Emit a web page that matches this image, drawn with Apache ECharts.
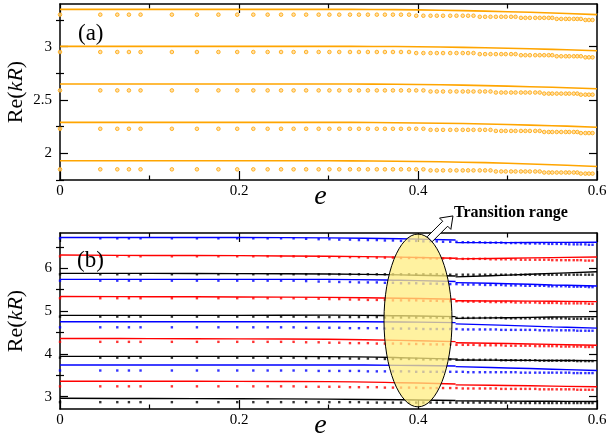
<!DOCTYPE html>
<html>
<head>
<meta charset="utf-8">
<script src="https://cdn.jsdelivr.net/npm/echarts@6/dist/echarts.min.js"></script>
<style>
  html, body { margin: 0; padding: 0; background: #fff; }
  #chart { width: 606px; height: 436px; }
</style>
</head>
<body>
<div id="chart"></div>
<script>
// Eccentricity values at which the resonances were computed (shared by both panels)
const eGrid = [0, 0.045, 0.064, 0.077, 0.090, 0.125, 0.153, 0.177, 0.198, 0.216,
  0.232, 0.247, 0.261, 0.275, 0.289, 0.301, 0.312, 0.324, 0.334, 0.344,
  0.354, 0.363, 0.372, 0.381, 0.390, 0.398, 0.406, 0.414, 0.421, 0.428,
  0.436, 0.443, 0.450, 0.456, 0.462, 0.469, 0.475, 0.481, 0.487, 0.493,
  0.498, 0.504, 0.509, 0.515, 0.520, 0.525, 0.531, 0.536, 0.541, 0.546,
  0.550, 0.555, 0.560, 0.565, 0.569, 0.574, 0.578, 0.582, 0.587, 0.591, 0.595];

// Panel (a): computed Re(kR), one array per branch
const aDots1 = [3.30,3.30,3.30,3.30,3.30,3.30,3.30,3.30,3.30,3.30,
  3.30,3.30,3.30,3.30,3.30,3.30,3.30,3.30,3.30,3.30,
  3.30,3.30,3.30,3.30,3.30,3.29,3.29,3.29,3.29,3.29,
  3.29,3.29,3.29,3.29,3.29,3.28,3.28,3.28,3.28,3.28,
  3.28,3.28,3.28,3.27,3.27,3.27,3.27,3.27,3.27,3.27,
  3.27,3.26,3.26,3.26,3.26,3.26,3.26,3.26,3.25,3.25,3.25];
const aDots2 = [2.95,2.95,2.95,2.95,2.95,2.95,2.95,2.95,2.95,2.95,
  2.95,2.95,2.95,2.95,2.95,2.95,2.95,2.95,2.95,2.95,
  2.95,2.95,2.95,2.95,2.95,2.94,2.94,2.94,2.94,2.94,
  2.94,2.94,2.94,2.94,2.94,2.93,2.93,2.93,2.93,2.93,
  2.93,2.93,2.93,2.92,2.92,2.92,2.92,2.92,2.92,2.92,
  2.92,2.91,2.91,2.91,2.91,2.91,2.91,2.91,2.90,2.90,2.90];
const aDots3 = [2.59,2.59,2.59,2.59,2.59,2.59,2.59,2.59,2.59,2.59,
  2.59,2.59,2.59,2.59,2.59,2.59,2.59,2.59,2.59,2.59,
  2.59,2.59,2.59,2.59,2.59,2.59,2.59,2.58,2.58,2.58,
  2.58,2.58,2.58,2.58,2.58,2.58,2.58,2.58,2.57,2.57,
  2.57,2.57,2.57,2.57,2.57,2.57,2.57,2.57,2.56,2.56,
  2.56,2.56,2.56,2.56,2.56,2.56,2.56,2.55,2.55,2.55,2.55];
const aDots4 = [2.23,2.23,2.23,2.23,2.23,2.23,2.23,2.23,2.23,2.23,
  2.23,2.23,2.23,2.23,2.23,2.23,2.23,2.23,2.23,2.23,
  2.23,2.23,2.23,2.23,2.23,2.23,2.23,2.22,2.22,2.22,
  2.22,2.22,2.22,2.22,2.22,2.22,2.22,2.22,2.21,2.21,
  2.21,2.21,2.21,2.21,2.21,2.21,2.21,2.21,2.20,2.20,
  2.20,2.20,2.20,2.20,2.20,2.20,2.20,2.19,2.19,2.19,2.19];
const aDots5 = [1.85,1.85,1.85,1.85,1.85,1.85,1.85,1.85,1.85,1.85,
  1.85,1.85,1.85,1.85,1.85,1.85,1.85,1.85,1.85,1.85,
  1.85,1.85,1.85,1.85,1.85,1.85,1.85,1.84,1.84,1.84,
  1.84,1.84,1.84,1.84,1.84,1.84,1.84,1.84,1.83,1.83,
  1.83,1.83,1.83,1.83,1.83,1.83,1.83,1.83,1.82,1.82,
  1.82,1.82,1.82,1.82,1.82,1.82,1.82,1.81,1.81,1.81,1.81];

// Panel (a): approximate curves
const aLineE = [0, 0.1, 0.2, 0.3, 0.35, 0.4, 0.45, 0.5, 0.55, 0.6];
const aLine1 = [3.35, 3.35, 3.35, 3.35, 3.349, 3.345, 3.338, 3.328, 3.316, 3.30];
const aLine2 = [3.003, 3.003, 3.003, 3.003, 3.002, 2.999, 2.993, 2.985, 2.975, 2.962];
const aLine3 = [2.65, 2.65, 2.65, 2.65, 2.649, 2.645, 2.639, 2.630, 2.619, 2.605];
const aLine4 = [2.29, 2.29, 2.29, 2.29, 2.289, 2.285, 2.279, 2.270, 2.259, 2.245];
const aLine5 = [1.93, 1.93, 1.93, 1.93, 1.928, 1.924, 1.917, 1.907, 1.893, 1.877];

// Panel (b): computed Re(kR), top to bottom (blue, red, black repeating)
const bDots1 = [6.70,6.70,6.70,6.70,6.70,6.70,6.70,6.70,6.70,6.70,
  6.70,6.70,6.70,6.69,6.68,6.68,6.67,6.67,6.66,6.66,
  6.66,6.65,6.65,6.64,6.64,6.64,6.63,6.63,6.63,6.62,
  6.62,6.62,6.61,6.61,6.61,6.61,6.60,6.60,6.60,6.60,
  6.59,6.59,6.59,6.59,6.58,6.58,6.58,6.58,6.58,6.57,
  6.57,6.57,6.57,6.57,6.56,6.56,6.56,6.56,6.56,6.55,6.55];
const bDots2 = [6.28,6.28,6.28,6.28,6.28,6.28,6.28,6.28,6.28,6.28,
  6.28,6.28,6.28,6.27,6.27,6.26,6.26,6.26,6.26,6.25,
  6.25,6.25,6.25,6.24,6.24,6.24,6.24,6.23,6.23,6.23,
  6.23,6.23,6.22,6.22,6.22,6.22,6.22,6.21,6.21,6.21,
  6.21,6.21,6.21,6.20,6.20,6.20,6.20,6.20,6.20,6.20,
  6.19,6.19,6.19,6.19,6.19,6.19,6.19,6.19,6.18,6.18,6.18];
const bDots3 = [5.86,5.86,5.86,5.86,5.86,5.86,5.86,5.86,5.86,5.86,
  5.86,5.86,5.86,5.86,5.86,5.86,5.86,5.86,5.86,5.86,
  5.86,5.86,5.86,5.86,5.86,5.86,5.86,5.86,5.86,5.85,
  5.85,5.85,5.85,5.85,5.85,5.85,5.85,5.85,5.85,5.85,
  5.85,5.85,5.85,5.85,5.85,5.85,5.85,5.85,5.85,5.85,
  5.85,5.85,5.85,5.85,5.85,5.85,5.85,5.85,5.85,5.85,5.85];
const bDots4 = [5.71,5.71,5.71,5.71,5.71,5.71,5.71,5.71,5.71,5.71,
  5.71,5.71,5.71,5.70,5.69,5.69,5.68,5.68,5.67,5.67,
  5.67,5.66,5.66,5.65,5.65,5.65,5.64,5.64,5.64,5.63,
  5.63,5.63,5.62,5.62,5.62,5.62,5.61,5.61,5.61,5.61,
  5.60,5.60,5.60,5.60,5.59,5.59,5.59,5.59,5.59,5.58,
  5.58,5.58,5.58,5.58,5.57,5.57,5.57,5.57,5.57,5.56,5.56];
const bDots5 = [5.30,5.30,5.30,5.30,5.30,5.30,5.30,5.30,5.30,5.30,
  5.30,5.30,5.30,5.29,5.29,5.28,5.28,5.27,5.27,5.26,
  5.26,5.26,5.25,5.25,5.25,5.25,5.24,5.24,5.24,5.23,
  5.23,5.23,5.23,5.22,5.22,5.22,5.22,5.21,5.21,5.21,
  5.21,5.21,5.20,5.20,5.20,5.20,5.20,5.19,5.19,5.19,
  5.19,5.19,5.18,5.18,5.18,5.18,5.18,5.18,5.18,5.17,5.17];
const bDots6 = [4.87,4.87,4.87,4.87,4.87,4.87,4.87,4.87,4.87,4.87,
  4.87,4.87,4.87,4.87,4.86,4.86,4.86,4.86,4.86,4.86,
  4.86,4.85,4.85,4.85,4.85,4.85,4.85,4.85,4.85,4.84,
  4.84,4.84,4.84,4.84,4.84,4.84,4.84,4.84,4.84,4.84,
  4.83,4.83,4.83,4.83,4.83,4.83,4.83,4.83,4.83,4.83,
  4.83,4.83,4.83,4.83,4.82,4.82,4.82,4.82,4.82,4.82,4.82];
const bDots7 = [4.62,4.62,4.62,4.62,4.62,4.62,4.62,4.62,4.62,4.62,
  4.62,4.62,4.62,4.61,4.61,4.61,4.61,4.60,4.60,4.60,
  4.60,4.59,4.59,4.59,4.59,4.59,4.58,4.58,4.58,4.58,
  4.58,4.58,4.57,4.57,4.57,4.57,4.57,4.57,4.57,4.56,
  4.56,4.56,4.56,4.56,4.56,4.56,4.56,4.55,4.55,4.55,
  4.55,4.55,4.55,4.55,4.55,4.55,4.54,4.54,4.54,4.54,4.54];
const bDots8 = [4.28,4.28,4.28,4.28,4.28,4.28,4.28,4.28,4.28,4.28,
  4.28,4.28,4.28,4.27,4.27,4.26,4.26,4.25,4.25,4.25,
  4.24,4.24,4.24,4.24,4.23,4.23,4.23,4.22,4.22,4.22,
  4.22,4.21,4.21,4.21,4.21,4.20,4.20,4.20,4.20,4.20,
  4.19,4.19,4.19,4.19,4.19,4.19,4.18,4.18,4.18,4.18,
  4.18,4.18,4.17,4.17,4.17,4.17,4.17,4.17,4.16,4.16,4.16];
const bDots9 = [3.91,3.91,3.91,3.91,3.91,3.91,3.91,3.91,3.91,3.91,
  3.91,3.91,3.91,3.90,3.90,3.90,3.90,3.89,3.89,3.89,
  3.89,3.88,3.88,3.88,3.88,3.88,3.87,3.87,3.87,3.87,
  3.87,3.87,3.86,3.86,3.86,3.86,3.86,3.86,3.86,3.85,
  3.85,3.85,3.85,3.85,3.85,3.85,3.85,3.84,3.84,3.84,
  3.84,3.84,3.84,3.84,3.84,3.84,3.83,3.83,3.83,3.83,3.83];
const bDots10 = [3.61,3.61,3.61,3.61,3.61,3.61,3.61,3.61,3.61,3.61,
  3.61,3.61,3.61,3.61,3.60,3.60,3.60,3.60,3.60,3.59,
  3.59,3.59,3.59,3.59,3.59,3.58,3.58,3.58,3.58,3.58,
  3.58,3.58,3.58,3.57,3.57,3.57,3.57,3.57,3.57,3.57,
  3.57,3.57,3.57,3.56,3.56,3.56,3.56,3.56,3.56,3.56,
  3.56,3.56,3.56,3.56,3.56,3.55,3.55,3.55,3.55,3.55,3.55];
const bDots11 = [3.24,3.24,3.24,3.24,3.24,3.24,3.24,3.24,3.24,3.24,
  3.24,3.24,3.24,3.23,3.23,3.23,3.23,3.22,3.22,3.22,
  3.22,3.21,3.21,3.21,3.21,3.21,3.20,3.20,3.20,3.20,
  3.20,3.20,3.19,3.19,3.19,3.19,3.19,3.19,3.19,3.18,
  3.18,3.18,3.18,3.18,3.18,3.18,3.18,3.17,3.17,3.17,
  3.17,3.17,3.17,3.17,3.17,3.17,3.16,3.16,3.16,3.16,3.16];
const bDots12 = [2.87,2.87,2.87,2.87,2.87,2.87,2.87,2.87,2.87,2.87,
  2.87,2.87,2.87,2.87,2.87,2.87,2.87,2.87,2.87,2.86,
  2.86,2.86,2.86,2.86,2.86,2.86,2.86,2.86,2.86,2.86,
  2.86,2.86,2.86,2.86,2.86,2.86,2.86,2.86,2.86,2.86,
  2.86,2.86,2.86,2.85,2.85,2.85,2.85,2.85,2.85,2.85,
  2.85,2.85,2.85,2.85,2.85,2.85,2.85,2.85,2.85,2.85,2.85];

// Panel (b): approximate curves, drawn in two pieces on either side of the transition
const bLineLeftE = [0, 0.1, 0.2, 0.3, 0.38, 0.442];
const bLineRightE = [0.442, 0.5, 0.55, 0.6];
const bLine1L = [6.72, 6.72, 6.72, 6.71, 6.69, 6.66],   bLine1R = [6.60, 6.60, 6.605, 6.607];
const bLine2L = [6.31, 6.30, 6.295, 6.28, 6.26, 6.235], bLine2R = [6.22, 6.235, 6.25, 6.265];
const bLine3L = [5.88, 5.88, 5.875, 5.865, 5.845, 5.82], bLine3R = [5.80, 5.84, 5.88, 5.92];
const bLine4L = [5.74, 5.74, 5.74, 5.74, 5.72, 5.69],   bLine4R = [5.665, 5.64, 5.61, 5.586];
const bLine5L = [5.34, 5.335, 5.33, 5.32, 5.30, 5.275], bLine5R = [5.24, 5.235, 5.23, 5.22];
const bLine6L = [4.90, 4.90, 4.90, 4.905, 4.89, 4.87],  bLine6R = [4.83, 4.845, 4.86, 4.87];
const bLine7L = [4.75, 4.75, 4.75, 4.75, 4.745, 4.73],  bLine7R = [4.70, 4.665, 4.63, 4.60];
const bLine8L = [4.36, 4.355, 4.35, 4.34, 4.315, 4.285], bLine8R = [4.26, 4.24, 4.22, 4.20];
const bLine9L = [3.94, 3.94, 3.94, 3.935, 3.91, 3.875], bLine9R = [3.857, 3.85, 3.845, 3.841];
const bLine10L = [3.74, 3.74, 3.74, 3.74, 3.73, 3.715], bLine10R = [3.70, 3.67, 3.64, 3.61];
const bLine11L = [3.36, 3.36, 3.355, 3.35, 3.325, 3.295], bLine11R = [3.275, 3.26, 3.245, 3.23];
const bLine12L = [2.96, 2.955, 2.95, 2.94, 2.925, 2.91], bLine12R = [2.90, 2.895, 2.89, 2.885];

// Axis ticks
const xTicks = [0, 0.2, 0.4, 0.6];
const aYMajor = [2, 2.5, 3];
const aYMinor = [1.75, 2.25, 2.75, 3.25];
const bYMajor = [3, 4, 5, 6];
const bYMinor = [3.5, 4.5, 5.5, 6.5];

const SERIF = '"Liberation Serif", "DejaVu Serif", serif';
const BLUE = '#0000ff', RED = '#ff0000', BLACK = '#000000', ORANGE = '#ffa500';

const chart = echarts.init(document.getElementById('chart'), null, { renderer: 'canvas' });

const grids = [
  { left: 60, top: 4, width: 537, height: 176, outerBoundsMode: 'none', containLabel: false },
  { left: 60, top: 233, width: 537, height: 176, outerBoundsMode: 'none', containLabel: false }
];
const yRanges = [[1.75, 3.4], [2.71, 6.825]];
const yMajors = [aYMajor, bYMajor];
const yMinors = [aYMinor, bYMinor];

const axisLine = { show: true, onZero: false, lineStyle: { color: '#000', width: 1.5 } };
const tickLine = { color: '#000', width: 1.2 };

const xAxes = [];
const yAxes = [];
[0, 1].forEach(g => {
  ['bottom', 'top'].forEach(pos => {
    xAxes.push({
      gridIndex: g, type: 'value', position: pos, min: 0, max: 0.6, interval: 0.2,
      axisLine,
      axisTick: { show: true, inside: true, length: 9, lineStyle: tickLine },
      minorTick: { show: true, splitNumber: 2, length: 4.5, lineStyle: tickLine },
      splitLine: { show: false }, minorSplitLine: { show: false },
      axisLabel: pos === 'bottom'
        ? { show: true, margin: 4, fontFamily: SERIF, fontSize: 15, color: '#000',
            customValues: xTicks, formatter: v => String(v) }
        : { show: false },
      name: pos === 'bottom' ? 'e' : '',
      nameLocation: 'middle', nameGap: 3, nameMoveOverlap: false,
      nameTextStyle: { fontFamily: SERIF, fontStyle: 'italic', fontSize: 28, color: '#000',
                       padding: [0, 16, 0, 0] }
    });
  });
  ['left', 'right'].forEach(pos => {
    yAxes.push({
      gridIndex: g, type: 'value', position: pos, min: yRanges[g][0], max: yRanges[g][1],
      axisLine,
      axisTick: { show: true, inside: true, length: 8, customValues: yMajors[g], lineStyle: tickLine },
      splitLine: { show: false },
      axisLabel: pos === 'left'
        ? { show: true, margin: 8, fontFamily: SERIF, fontSize: 15, color: '#000',
            customValues: yMajors[g], formatter: v => String(v) }
        : { show: false },
      name: pos === 'left' ? 'Re({i|kR})' : '',
      nameLocation: 'middle', nameRotate: 90, nameGap: 33, nameMoveOverlap: false,
      nameTextStyle: {
        fontFamily: SERIF, fontSize: 22, color: '#000',
        rich: { i: { fontFamily: SERIF, fontSize: 22, fontStyle: 'italic', color: '#000' } }
      }
    });
    yAxes.push({
      gridIndex: g, type: 'value', position: pos, min: yRanges[g][0], max: yRanges[g][1],
      axisLine: { show: false },
      axisTick: { show: true, inside: true, length: 4, customValues: yMinors[g], lineStyle: tickLine },
      splitLine: { show: false },
      axisLabel: { show: false }
    });
  });
});

const series = [];
function addLine(xIdx, yIdx, es, vals, color, width) {
  series.push({
    type: 'line', xAxisIndex: xIdx, yAxisIndex: yIdx,
    data: es.map((e, i) => [e, vals[i]]),
    smooth: 0.4, showSymbol: false, silent: true, z: 2,
    lineStyle: { color, width }
  });
}
function addDots(xIdx, yIdx, vals, symbol, size, style) {
  series.push({
    type: 'scatter', xAxisIndex: xIdx, yAxisIndex: yIdx,
    data: eGrid.map((e, i) => [e, vals[i]]),
    symbol, symbolSize: size, silent: true, z: 3, itemStyle: style
  });
}

// Panel (a)
[aLine1, aLine2, aLine3, aLine4, aLine5].forEach(v => addLine(0, 0, aLineE, v, ORANGE, 1.6));
[aDots1, aDots2, aDots3, aDots4, aDots5].forEach(v =>
  addDots(0, 0, v, 'circle', 3.6, { color: '#ffd690', borderColor: ORANGE, borderWidth: 1 }));

// Panel (b)
const bColors = [BLUE, RED, BLACK, BLUE, RED, BLACK, BLUE, RED, BLACK, BLUE, RED, BLACK];
const bLeft = [bLine1L, bLine2L, bLine3L, bLine4L, bLine5L, bLine6L, bLine7L, bLine8L, bLine9L, bLine10L, bLine11L, bLine12L];
const bRight = [bLine1R, bLine2R, bLine3R, bLine4R, bLine5R, bLine6R, bLine7R, bLine8R, bLine9R, bLine10R, bLine11R, bLine12R];
const bDots = [bDots1, bDots2, bDots3, bDots4, bDots5, bDots6, bDots7, bDots8, bDots9, bDots10, bDots11, bDots12];
bColors.forEach((c, k) => {
  addLine(2, 4, bLineLeftE, bLeft[k], c, 1.4);
  addLine(2, 4, bLineRightE, bRight[k], c, 1.4);
  addDots(2, 4, bDots[k], 'rect', 2.4, { color: c });
});

chart.setOption({
  animation: false,
  backgroundColor: '#fff',
  grid: grids,
  xAxis: xAxes,
  yAxis: yAxes,
  series
});

// Annotation for the transition region in panel (b)
const transE = 0.4, transV = 4.78, transHalfE = 0.038, transHalfV = 2.02;
const finder = { xAxisIndex: 2, yAxisIndex: 4 };
const ctr = chart.convertToPixel(finder, [transE, transV]);
const corner = chart.convertToPixel(finder, [transE + transHalfE, transV + transHalfV]);
const rx = corner[0] - ctr[0], ry = ctr[1] - corner[1];

// Block arrow leaving the ellipse towards the caption
const th = 70 * Math.PI / 180;
const base = [ctr[0] + rx * Math.cos(th), ctr[1] - ry * Math.sin(th)];
const ang = 45 * Math.PI / 180;
const L = 33, headL = 11, w1 = 3.5, w2 = 8;
const local = [[0, -w1], [L - headL, -w1], [L - headL, -w2], [L, 0], [L - headL, w2], [L - headL, w1], [0, w1]];
const arrowPts = local.map(([u, v]) => [
  base[0] + u * Math.cos(ang) + v * Math.sin(ang),
  base[1] - u * Math.sin(ang) + v * Math.cos(ang)
]);
const tip = [base[0] + L * Math.cos(ang), base[1] - L * Math.sin(ang)];

chart.setOption({
  graphic: [
    { type: 'ellipse', z: 100, silent: true,
      shape: { cx: ctr[0], cy: ctr[1], rx, ry },
      style: { fill: 'rgba(255,238,128,0.75)', stroke: '#000', lineWidth: 1 } },
    { type: 'polygon', z: 101, silent: true,
      shape: { points: arrowPts },
      style: { fill: '#fff', stroke: '#000', lineWidth: 1 } },
    { type: 'text', z: 102, silent: true, x: tip[0] + 1, y: tip[1] - 3,
      style: { text: 'Transition range', fontFamily: SERIF, fontWeight: 'bold', fontSize: 16,
               fill: '#000', align: 'left', verticalAlign: 'middle' } },
    { type: 'text', z: 102, silent: true, x: 78, y: 34,
      style: { text: '(a)', fontFamily: SERIF, fontSize: 23, fill: '#000', align: 'left', verticalAlign: 'middle' } },
    { type: 'text', z: 102, silent: true, x: 77, y: 261,
      style: { text: '(b)', fontFamily: SERIF, fontSize: 23, fill: '#000', align: 'left', verticalAlign: 'middle' } }
  ]
});
</script>
</body>
</html>
